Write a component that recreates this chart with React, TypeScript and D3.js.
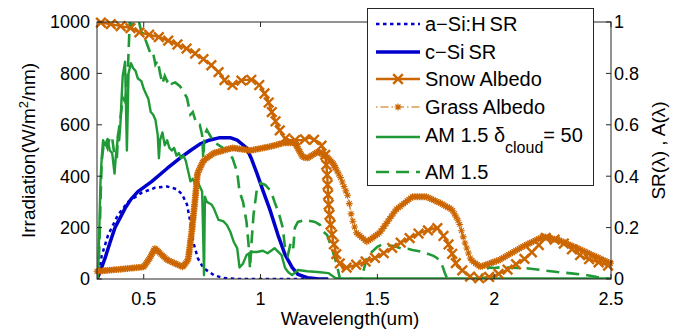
import React, { useEffect, useRef } from "react";
import * as d3 from "d3";

const W = 683;
const H = 330;
const PL = 97, PR = 611, PT = 22, PB = 279;

const xDomain = [0.3, 2.5];
const xTicks = [0.5, 1, 1.5, 2, 2.5];
const xTickLabels = ["0.5", "1", "1.5", "2", "2.5"];
const yLeftTicks = [0, 200, 400, 600, 800, 1000];
const yLeftLabels = ["0", "200", "400", "600", "800", "1000"];
const yRightTicks = [0, 0.2, 0.4, 0.6, 0.8, 1];
const yRightLabels = ["0", "0.2", "0.4", "0.6", "0.8", "1"];

const legendLabels = ["a\u2212Si:H\u2009SR", "c\u2212Si\u2009SR", "Snow Albedo", "Grass Albedo", "AM 1.5 \u03b4", "AM 1.5"];

// Spectral responses (right axis, 0..1)
const aSiSR: [number, number][] = [
  [0.3, 0], [0.31, 0.03], [0.32, 0.09], [0.347, 0.17], [0.39, 0.25], [0.433, 0.3], [0.49, 0.335],
  [0.548, 0.355], [0.6, 0.36], [0.64, 0.35], [0.664, 0.33], [0.685, 0.29], [0.7, 0.22], [0.71, 0.15],
  [0.732, 0.08], [0.755, 0.043], [0.8, 0.015], [0.84, 0.004], [0.9, 0], [1.2, 0],
];

const cSiSR: [number, number][] = [
  [0.3, 0], [0.31, 0.02], [0.334, 0.08], [0.355, 0.14], [0.377, 0.2], [0.4, 0.24], [0.42, 0.275],
  [0.445, 0.31], [0.475, 0.34], [0.535, 0.38], [0.6, 0.43], [0.655, 0.47], [0.7, 0.5], [0.74, 0.525],
  [0.78, 0.54], [0.826, 0.55], [0.87, 0.55], [0.9, 0.54], [0.94, 0.51], [0.96, 0.47], [0.985, 0.41],
  [1.01, 0.345], [1.04, 0.27], [1.075, 0.17], [1.105, 0.095], [1.135, 0.045], [1.16, 0.018],
  [1.2, 0.005], [1.25, 0], [1.29, 0],
];

// Albedo (right axis)
const snowAlbedo: [number, number][] = [
  [0.3, 1.0], [0.37, 0.99], [0.45, 0.975], [0.48, 0.96], [0.57, 0.94], [0.625, 0.92], [0.7, 0.89],
  [0.74, 0.865], [0.78, 0.84], [0.826, 0.8], [0.856, 0.76], [0.88, 0.755], [0.925, 0.775], [0.97, 0.775],
  [1.0, 0.75], [1.03, 0.7], [1.05, 0.645], [1.075, 0.59], [1.1, 0.55], [1.126, 0.54], [1.18, 0.54],
  [1.21, 0.55], [1.255, 0.53], [1.276, 0.49], [1.285, 0.41], [1.29, 0.31], [1.297, 0.23], [1.31, 0.15],
  [1.33, 0.075], [1.353, 0.04], [1.426, 0.06], [1.499, 0.085], [1.597, 0.14], [1.683, 0.18], [1.755, 0.2],
  [1.798, 0.15], [1.841, 0.05], [1.91, 0.0], [1.995, 0.01], [2.055, 0.035], [2.141, 0.085], [2.226, 0.165],
  [2.295, 0.14], [2.38, 0.085], [2.496, 0.05],
];

const grassAlbedo: [number, number][] = [
  [0.3, 0.03], [0.4, 0.038], [0.5, 0.047], [0.525, 0.08], [0.548, 0.12], [0.57, 0.1], [0.6, 0.075],
  [0.64, 0.058], [0.668, 0.047], [0.69, 0.075], [0.705, 0.18], [0.72, 0.31], [0.73, 0.41], [0.755, 0.46],
  [0.8, 0.49], [0.88, 0.51], [0.955, 0.5], [1.04, 0.515], [1.1, 0.53], [1.147, 0.53], [1.18, 0.475],
  [1.2, 0.47], [1.245, 0.495], [1.285, 0.475], [1.31, 0.45], [1.34, 0.4], [1.375, 0.32], [1.39, 0.24],
  [1.41, 0.18], [1.455, 0.145], [1.51, 0.18], [1.58, 0.27], [1.65, 0.32], [1.71, 0.32], [1.77, 0.295],
  [1.82, 0.27], [1.85, 0.22], [1.875, 0.14], [1.9, 0.075], [1.94, 0.047], [2.025, 0.075], [2.12, 0.125],
  [2.21, 0.165], [2.28, 0.15], [2.38, 0.11], [2.5, 0.06],
];

// Irradiance (left axis)
const am15Cloud: [number, number][] = [
  [0.3, 0], [0.305, 30], [0.31, 200], [0.315, 380], [0.32, 470], [0.326, 540], [0.335, 520], [0.345, 545],
  [0.355, 500], [0.365, 490], [0.375, 410], [0.38, 470], [0.39, 560], [0.395, 540], [0.4, 600], [0.405, 700],
  [0.41, 790], [0.42, 845], [0.428, 500], [0.435, 800], [0.445, 840], [0.455, 820], [0.465, 810],
  [0.475, 780], [0.49, 770], [0.5, 740], [0.51, 720], [0.52, 700], [0.53, 650], [0.54, 640], [0.55, 620],
  [0.56, 560], [0.565, 470], [0.57, 540], [0.58, 570], [0.59, 520], [0.6, 540], [0.61, 510], [0.62, 500],
  [0.63, 510], [0.64, 480], [0.65, 490], [0.66, 470], [0.67, 480], [0.68, 460], [0.69, 420], [0.7, 380],
  [0.71, 390], [0.72, 370], [0.73, 380], [0.74, 360], [0.75, 340], [0.755, 150], [0.758, 15], [0.762, 320],
  [0.77, 300], [0.79, 290], [0.8, 275], [0.82, 230], [0.84, 225], [0.856, 210], [0.87, 185], [0.885, 145],
  [0.9, 120], [0.91, 45], [0.925, 60], [0.94, 93], [0.96, 105], [0.985, 105], [1.01, 110], [1.03, 100],
  [1.06, 120], [1.09, 93], [1.105, 43], [1.12, 25], [1.135, 15], [1.16, 35], [1.2, 30], [1.245, 27],
  [1.29, 23], [1.32, 4], [1.34, 2], [1.6, 2], [2.0, 2], [2.5, 2],
];

const am15: [number, number][] = [
  [0.3, 0], [0.305, 20], [0.31, 120], [0.315, 300], [0.32, 455], [0.328, 520], [0.335, 533], [0.345, 510],
  [0.355, 555], [0.365, 548], [0.375, 480], [0.385, 470], [0.39, 560], [0.4, 620], [0.41, 705], [0.42, 690],
  [0.43, 770], [0.435, 880], [0.44, 1000], [0.45, 985], [0.46, 1000], [0.47, 990], [0.48, 1000], [0.49, 960],
  [0.5, 940], [0.51, 925], [0.52, 900], [0.53, 875], [0.54, 880], [0.55, 835], [0.56, 850], [0.57, 800],
  [0.58, 760], [0.59, 790], [0.6, 770], [0.61, 780], [0.62, 760], [0.635, 765], [0.655, 750], [0.67, 730],
  [0.685, 705], [0.7, 640], [0.71, 650], [0.72, 620], [0.73, 600], [0.74, 600], [0.75, 560], [0.755, 470],
  [0.76, 560], [0.77, 580], [0.8, 533], [0.84, 510], [0.86, 494], [0.88, 470], [0.9, 416], [0.91, 340],
  [0.925, 300], [0.94, 222], [0.95, 120], [0.955, 40], [0.962, 150], [0.97, 250], [0.985, 354], [1.0, 373],
  [1.02, 366], [1.04, 346], [1.05, 327], [1.06, 300], [1.08, 250], [1.095, 200], [1.105, 120],
  [1.117, 93], [1.13, 144], [1.14, 120], [1.147, 200], [1.16, 222], [1.19, 230], [1.233, 222],
  [1.255, 210], [1.27, 183], [1.285, 171], [1.305, 120], [1.327, 54], [1.34, 0], [1.43, 0], [1.44, 30],
  [1.456, 85], [1.47, 100], [1.5, 125], [1.52, 135], [1.54, 132], [1.57, 128], [1.6, 120], [1.63, 118],
  [1.65, 113], [1.68, 108], [1.71, 100], [1.74, 90], [1.755, 82], [1.77, 65], [1.78, 47], [1.79, 20],
  [1.8, 0], [1.94, 0], [1.95, 20], [1.96, 35], [1.98, 45], [2.0, 43], [2.03, 46], [2.07, 44], [2.13, 43],
  [2.2, 35], [2.27, 27], [2.33, 22], [2.39, 16], [2.44, 8], [2.48, 3], [2.5, 0],
];

const ORANGE = "#cc6600";
const GREEN = "#209a36";
const BLUE = "#0000cc";
const AXIS = "#262626";
const FONT = "'Liberation Sans', Arial, Helvetica, sans-serif";

export default function App() {
  const ref = useRef<SVGSVGElement | null>(null);

  useEffect(() => {
    const svg = d3.select(ref.current);
    svg.selectAll("*").remove();

    const x = d3.scaleLinear().domain(xDomain).range([PL, PR]);
    const yL = d3.scaleLinear().domain([0, 1000]).range([PB, PT]);
    const yR = d3.scaleLinear().domain([0, 1]).range([PB, PT]);

    svg.append("rect").attr("width", W).attr("height", H).attr("fill", "white");

    const defs = svg.append("defs");
    defs.append("clipPath").attr("id", "plotclip")
      .append("rect").attr("x", PL).attr("y", PT).attr("width", PR - PL).attr("height", PB - PT);

    const lineL = d3.line<[number, number]>().x((d) => x(d[0])).y((d) => yL(d[1]));
    const lineR = d3.line<[number, number]>().x((d) => x(d[0])).y((d) => yR(d[1]));

    const plot = svg.append("g");
    const clipped = plot.append("g").attr("clip-path", "url(#plotclip)");

    const ast = (s: number) => {
      const a = s * 0.72;
      return `M${-s},0L${s},0M0,${-s}L0,${s}M${-a},${-a}L${a},${a}M${-a},${a}L${a},${-a}`;
    };
    const xm = (s: number) => `M${-s},${-s}L${s},${s}M${-s},${s}L${s},${-s}`;

    // a-Si SR dotted
    clipped.append("path").attr("d", lineR(aSiSR)!).attr("fill", "none")
      .attr("stroke", BLUE).attr("stroke-width", 2.5).attr("stroke-dasharray", "3.5,3.5");
    // c-Si SR solid
    clipped.append("path").attr("d", lineR(cSiSR)!).attr("fill", "none")
      .attr("stroke", BLUE).attr("stroke-width", 3.5).attr("stroke-linejoin", "round");

    // Grass albedo: dash-dot line + dense asterisks
    const grassPath = clipped.append("path").attr("d", lineR(grassAlbedo)!).attr("fill", "none")
      .attr("stroke", ORANGE).attr("stroke-width", 1.2).attr("stroke-dasharray", "6,3,1.5,3");
    const gNode = grassPath.node() as SVGPathElement;
    const gTotal = gNode.getTotalLength();
    const xCut = x(1.32);
    const gPts: { x: number; y: number }[] = [];
    for (let l = 0; l <= gTotal; l += 1.8) {
      const p = gNode.getPointAtLength(l);
      if (p.x < xCut) gPts.push({ x: p.x, y: p.y });
    }
    const grassInterp = d3.scaleLinear().domain(grassAlbedo.map((d) => d[0])).range(grassAlbedo.map((d) => d[1]));
    d3.range(1.32, 2.5 + 1e-9, 0.0075).forEach((v) => gPts.push({ x: x(v), y: yR(grassInterp(v)) }));
    plot.append("g").selectAll("path").data(gPts).join("path")
      .attr("transform", (p) => `translate(${p.x},${p.y})`)
      .attr("d", ast(3.4)).attr("fill", "none").attr("stroke", ORANGE).attr("stroke-width", 1.1);

    // Snow albedo: solid + x markers along path
    const snowPath = clipped.append("path").attr("d", lineR(snowAlbedo)!).attr("fill", "none")
      .attr("stroke", ORANGE).attr("stroke-width", 2.4);
    const node = snowPath.node() as SVGPathElement;
    const total = node.getTotalLength();
    const pts: { x: number; y: number }[] = [];
    for (let l = 4; l <= total; l += 10) {
      const p = node.getPointAtLength(l);
      pts.push({ x: p.x, y: p.y });
    }
    plot.append("g").selectAll("path").data(pts).join("path")
      .attr("transform", (p) => `translate(${p.x},${p.y})`)
      .attr("d", xm(4.8)).attr("fill", "none").attr("stroke", ORANGE).attr("stroke-width", 2.4);

    // Green spectra
    clipped.append("path").attr("d", lineL(am15Cloud)!).attr("fill", "none")
      .attr("stroke", GREEN).attr("stroke-width", 2.4).attr("stroke-linejoin", "round");
    clipped.append("path").attr("d", lineL(am15)!).attr("fill", "none")
      .attr("stroke", GREEN).attr("stroke-width", 2.6).attr("stroke-dasharray", "13,7");

    // Box / axes
    const ax = svg.append("g").attr("stroke", AXIS).attr("stroke-width", 1).attr("fill", "none");
    ax.append("rect").attr("x", PL).attr("y", PT).attr("width", PR - PL).attr("height", PB - PT);
    xTicks.forEach((t) => {
      ax.append("line").attr("x1", x(t)).attr("x2", x(t)).attr("y1", PB).attr("y2", PB - 5);
      ax.append("line").attr("x1", x(t)).attr("x2", x(t)).attr("y1", PT).attr("y2", PT + 5);
    });
    yLeftTicks.forEach((t) => {
      ax.append("line").attr("x1", PL).attr("x2", PL + 5).attr("y1", yL(t)).attr("y2", yL(t));
    });
    yRightTicks.forEach((t) => {
      ax.append("line").attr("x1", PR).attr("x2", PR - 5).attr("y1", yR(t)).attr("y2", yR(t));
    });

    const txt = svg.append("g").attr("font-family", FONT).attr("fill", "black");
    xTicks.forEach((t, i) => {
      txt.append("text").attr("x", x(t)).attr("y", PB + 26).attr("text-anchor", "middle")
        .attr("font-size", 18).text(xTickLabels[i]);
    });
    yLeftTicks.forEach((t, i) => {
      txt.append("text").attr("x", PL - 7).attr("y", yL(t)).attr("dy", "0.35em").attr("text-anchor", "end")
        .attr("font-size", 18).text(yLeftLabels[i]);
    });
    yRightTicks.forEach((t, i) => {
      txt.append("text").attr("x", PR + 3).attr("y", yR(t)).attr("dy", "0.35em").attr("text-anchor", "start")
        .attr("font-size", 18).text(yRightLabels[i]);
    });
    txt.append("text").attr("x", (PL + PR) / 2 - 4).attr("y", 325).attr("text-anchor", "middle")
      .attr("font-size", 19).text("Wavelength(um)");
    const yl = txt.append("text").attr("transform", `translate(35,${(PT + PB) / 2}) rotate(-90)`)
      .attr("text-anchor", "middle").attr("font-size", 19);
    yl.append("tspan").text("Irradiation(W/m");
    yl.append("tspan").attr("dy", -7).attr("font-size", 13).text("2");
    yl.append("tspan").attr("dy", 7).text("/nm)");
    txt.append("text").attr("transform", `translate(665,${(PT + PB) / 2}) rotate(-90)`)
      .attr("text-anchor", "middle").attr("font-size", 19).text("SR(\u03bb) , A(\u03bb)");

    // Legend
    const lg = svg.append("g");
    lg.append("rect").attr("x", 367.5).attr("y", 8.5).attr("width", 226).attr("height", 177)
      .attr("fill", "white").attr("stroke", AXIS).attr("stroke-width", 1);
    const lx1 = 376, lx2 = 420, tx = 425;
    const rows = [24, 52, 79, 107, 137, 172];
    lg.append("line").attr("x1", lx1).attr("x2", lx2).attr("y1", rows[0]).attr("y2", rows[0])
      .attr("stroke", BLUE).attr("stroke-width", 2.5).attr("stroke-dasharray", "3.5,3.5");
    lg.append("line").attr("x1", lx1).attr("x2", lx2).attr("y1", rows[1]).attr("y2", rows[1])
      .attr("stroke", BLUE).attr("stroke-width", 3.5);
    lg.append("line").attr("x1", lx1).attr("x2", lx2).attr("y1", rows[2]).attr("y2", rows[2])
      .attr("stroke", ORANGE).attr("stroke-width", 2.4);
    lg.append("path").attr("transform", `translate(${(lx1 + lx2) / 2},${rows[2]})`).attr("d", xm(4.8))
      .attr("stroke", ORANGE).attr("stroke-width", 2.4).attr("fill", "none");
    lg.append("line").attr("x1", lx1).attr("x2", lx2).attr("y1", rows[3]).attr("y2", rows[3])
      .attr("stroke", ORANGE).attr("stroke-width", 1.2).attr("stroke-dasharray", "1.5,3,8,3");
    lg.append("path").attr("transform", `translate(${(lx1 + lx2) / 2},${rows[3]})`).attr("d", ast(3.5))
      .attr("stroke", ORANGE).attr("stroke-width", 1.2).attr("fill", "none");
    lg.append("line").attr("x1", lx1).attr("x2", lx2).attr("y1", rows[4]).attr("y2", rows[4])
      .attr("stroke", GREEN).attr("stroke-width", 2.4);
    lg.append("line").attr("x1", lx1).attr("x2", lx2).attr("y1", rows[5]).attr("y2", rows[5])
      .attr("stroke", GREEN).attr("stroke-width", 2.6).attr("stroke-dasharray", "13,7");

    const lt = lg.append("g").attr("font-family", FONT).attr("font-size", 20).attr("fill", "black");
    [0, 1, 2, 3, 5].forEach((i) => {
      lt.append("text").attr("x", tx).attr("y", rows[i]).attr("dy", "0.35em").text(legendLabels[i]);
    });
    const t5 = lt.append("text").attr("x", tx).attr("y", rows[4] - 2).attr("dy", "0.35em");
    t5.append("tspan").text(legendLabels[4]);
    t5.append("tspan").attr("dy", 11).attr("font-size", 16).text("cloud");
    t5.append("tspan").attr("dy", -11).text("= 50");
  }, []);

  return (
    <div style={{ position: "fixed", left: 0, top: 0, width: W, height: H }}>
      <svg ref={ref} width={W} height={H} style={{ display: "block" }} />
    </div>
  );
}
